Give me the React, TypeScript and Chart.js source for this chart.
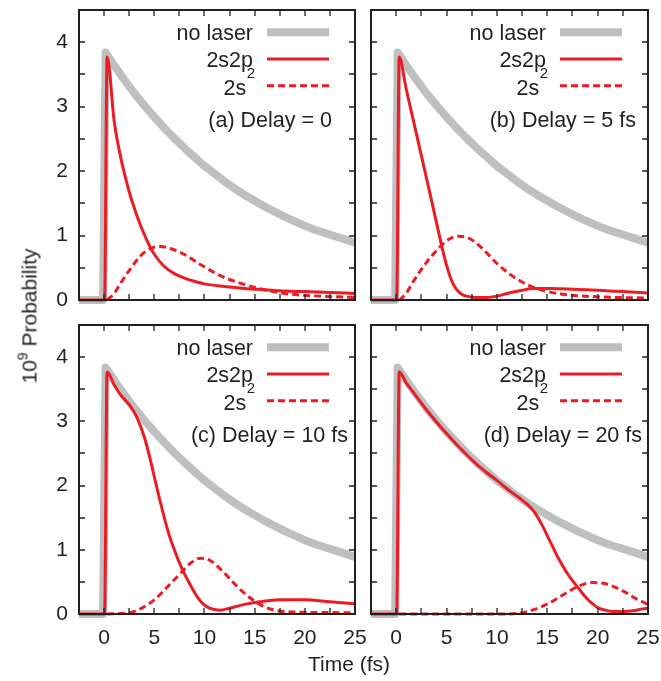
import React, { useEffect, useRef } from "react";
import { Chart, registerables } from "chart.js";

Chart.register(...registerables);

const FONT = '"Liberation Sans", Arial, Helvetica, sans-serif';
const INK = "#231f20";
const GRAY = "#bebfc1";
const RED = "#ec1c24";

// axes
const xMin = -2.5;
const xMax = 25;
const xStep = 2.5;
const yMin = 0;
const yMax = 4.5;
const yStep = 0.5;

// legend / titles
const legendNames = ["no laser", "2s2p", "2s"];
const panelTitles = ["(a) Delay = 0", "(b) Delay = 5 fs", "(c) Delay = 10 fs", "(d) Delay = 20 fs"];

// no laser (same in all panels)
const noLaserT = [-2.5, -0.1, 0.15, 1, 2, 3, 4, 5, 6, 7, 8, 9, 10, 11, 12, 13, 14, 15, 16, 17, 18, 19, 20, 21, 22, 23, 24, 25];
const noLaserP = [0, 0, 3.84, 3.64, 3.42, 3.21, 3.02, 2.84, 2.67, 2.51, 2.36, 2.22, 2.08, 1.96, 1.84, 1.73, 1.63, 1.54, 1.45, 1.37, 1.29, 1.22, 1.15, 1.09, 1.04, 0.99, 0.94, 0.89];

// (a) delay 0
const aSolidT = [-2.5, 0.05, 0.3, 1, 1.5, 2, 2.5, 3, 3.5, 4, 4.5, 5, 6, 7, 8, 9, 10, 12, 14, 16, 18, 20, 22, 25];
const aSolidP = [0, 0, 3.77, 2.78, 2.33, 1.98, 1.68, 1.43, 1.21, 1.02, 0.85, 0.71, 0.52, 0.41, 0.34, 0.29, 0.25, 0.21, 0.18, 0.16, 0.14, 0.13, 0.12, 0.1];
const aDashT = [0.3, 1, 1.6, 2.6, 3.6, 4.6, 5.6, 6.6, 7.6, 8.6, 9.6, 11.3, 12.3, 14.9, 17.6, 20.3, 25];
const aDashP = [0, 0.1, 0.25, 0.48, 0.68, 0.8, 0.83, 0.8, 0.74, 0.65, 0.55, 0.4, 0.33, 0.2, 0.11, 0.07, 0.04];

// (b) delay 5 fs
const bSolidT = [-2.5, 0.05, 0.3, 1, 1.7, 2.5, 3.2, 4, 4.55, 5, 5.5, 6, 6.5, 7, 8, 9, 10, 11, 12.5, 13.5, 15.2, 17, 20, 22.5, 25];
const bSolidP = [0, 0, 3.77, 3.27, 2.79, 2.24, 1.76, 1.2, 0.82, 0.54, 0.3, 0.16, 0.09, 0.06, 0.04, 0.04, 0.06, 0.1, 0.15, 0.18, 0.18, 0.17, 0.15, 0.13, 0.11];
const bDashT = [0.3, 1, 1.55, 2.9, 4.2, 5.2, 6.2, 7.2, 8.5, 9.85, 11.2, 12.5, 13.9, 16.5, 19.9, 25];
const bDashP = [0, 0.1, 0.25, 0.56, 0.8, 0.94, 0.99, 0.96, 0.81, 0.59, 0.41, 0.28, 0.18, 0.09, 0.05, 0.03];

// (c) delay 10 fs
const cSolidT = [-2.5, 0.05, 0.3, 1, 1.6, 2.6, 3.3, 4, 4.5, 5, 5.5, 6, 6.5, 7, 7.5, 8, 8.5, 9, 9.5, 10, 10.5, 11.5, 12.5, 14, 15.5, 17.5, 20, 22.5, 25];
const cSolidP = [0, 0, 3.77, 3.57, 3.42, 3.24, 3.05, 2.76, 2.47, 2.14, 1.81, 1.5, 1.22, 1.0, 0.8, 0.63, 0.48, 0.34, 0.22, 0.14, 0.09, 0.06, 0.09, 0.15, 0.19, 0.22, 0.22, 0.19, 0.16];
const cDashT = [0.3, 2.6, 3.6, 5, 6.3, 7.6, 8.6, 9.6, 10.6, 11.6, 13, 14, 15, 16, 17, 19, 25];
const cDashP = [0, 0.02, 0.08, 0.22, 0.42, 0.63, 0.79, 0.87, 0.83, 0.7, 0.47, 0.32, 0.2, 0.11, 0.06, 0.03, 0.02];

// (d) delay 20 fs
const dSolidT = [-2.5, 0.05, 0.3, 1, 2, 3, 4, 5, 6, 7, 8, 9, 10, 11, 12.2, 13, 13.5, 14, 14.5, 15, 15.5, 16, 16.5, 17, 17.5, 18, 18.5, 19, 19.5, 20, 20.5, 21.5, 22.5, 23.5, 24.5, 25];
const dSolidP = [0, 0, 3.77, 3.6, 3.39, 3.18, 2.99, 2.81, 2.64, 2.48, 2.33, 2.2, 2.08, 1.95, 1.81, 1.71, 1.63, 1.52, 1.38, 1.22, 1.06, 0.9, 0.76, 0.63, 0.52, 0.42, 0.32, 0.23, 0.16, 0.1, 0.07, 0.04, 0.04, 0.05, 0.08, 0.09];
const dDashT = [0.3, 10, 12.2, 13.5, 15.2, 16.8, 18.2, 19.5, 20.8, 22.5, 23.8, 25];
const dDashP = [0, 0, 0.01, 0.06, 0.17, 0.32, 0.44, 0.49, 0.47, 0.36, 0.24, 0.15];

const toXY = (t: number[], v: number[]) => t.map((x, i) => ({ x, y: v[i] }));

const LW = 3;
const DASH = [7, 4];

const decorPlugin = {
  id: "decor",
  afterDatasetsDraw(chart: any) {
    const opts = chart.options.plugins.decor;
    const { ctx, chartArea: a } = chart;
    const xs = chart.scales.x;
    const ys = chart.scales.y;
    ctx.save();
    // inward ticks on all four sides
    ctx.strokeStyle = INK;
    ctx.lineWidth = 1.3;
    ctx.beginPath();
    const TL = 6;
    xs.ticks.forEach((t: any) => {
      if (t.value <= xs.min || t.value >= xs.max) return;
      const p = Math.round(xs.getPixelForValue(t.value));
      ctx.moveTo(p, a.bottom);
      ctx.lineTo(p, a.bottom - TL);
      ctx.moveTo(p, a.top);
      ctx.lineTo(p, a.top + TL);
    });
    ys.ticks.forEach((t: any) => {
      if (t.value <= ys.min || t.value >= ys.max) return;
      const p = Math.round(ys.getPixelForValue(t.value));
      ctx.moveTo(a.left, p);
      ctx.lineTo(a.left + TL, p);
      ctx.moveTo(a.right, p);
      ctx.lineTo(a.right - TL, p);
    });
    ctx.stroke();
    // frame
    ctx.lineWidth = 2;
    ctx.strokeRect(a.left, a.top, a.right - a.left, a.bottom - a.top);

    // legend
    const tr = a.right - 102;
    ctx.fillStyle = INK;
    ctx.textAlign = "right";
    ctx.textBaseline = "alphabetic";
    ctx.font = `21.5px ${FONT}`;
    ctx.fillText(legendNames[0], tr, a.top + 29.5);
    ctx.fillText(legendNames[1], tr, a.top + 56.7);
    ctx.font = `15px ${FONT}`;
    const supW = ctx.measureText("2").width;
    ctx.fillText("2", tr + 2, a.top + 68);
    ctx.font = `21.5px ${FONT}`;
    ctx.fillText(legendNames[2], tr + 1.5 - supW, a.top + 85);

    const lx0 = a.right - 88;
    const lx1 = a.right - 26;
    ctx.lineCap = "butt";
    ctx.strokeStyle = GRAY;
    ctx.lineWidth = 8;
    ctx.beginPath();
    ctx.moveTo(lx0, a.top + 22.3);
    ctx.lineTo(lx1, a.top + 22.3);
    ctx.stroke();
    ctx.strokeStyle = RED;
    ctx.lineWidth = LW;
    ctx.beginPath();
    ctx.moveTo(lx0, a.top + 49);
    ctx.lineTo(lx1, a.top + 49);
    ctx.stroke();
    ctx.setLineDash(DASH);
    ctx.beginPath();
    ctx.moveTo(lx0, a.top + 75.7);
    ctx.lineTo(lx1, a.top + 75.7);
    ctx.stroke();
    ctx.setLineDash([]);

    // panel title
    ctx.font = `21.5px ${FONT}`;
    ctx.fillText(opts.title, a.right - opts.titleRight, a.top + 117);
    ctx.restore();
  },
};

type PanelProps = {
  left: number;
  top: number;
  width: number;
  height: number;
  padTop: number;
  padRight: number;
  yWidth: number;
  xHeight: number;
  showX: boolean;
  showY: boolean;
  title: string;
  titleRight: number;
  solidT: number[];
  solidP: number[];
  dashT: number[];
  dashP: number[];
};

function Panel(p: PanelProps) {
  const ref = useRef<HTMLCanvasElement>(null);
  useEffect(() => {
    const zeroPad = (s: any) => {
      s.paddingLeft = 0;
      s.paddingRight = 0;
      s.paddingTop = 0;
      s.paddingBottom = 0;
    };
    const chart = new Chart(ref.current as HTMLCanvasElement, {
      type: "line",
      data: {
        datasets: [
          {
            label: "2s2p",
            data: toXY(p.solidT, p.solidP),
            borderColor: RED,
            borderWidth: LW,
            pointRadius: 0,
            cubicInterpolationMode: "monotone",
            clip: { left: 0, top: 0, right: 0, bottom: 3 },
            order: 1,
          },
          {
            label: "2s^2",
            data: toXY(p.dashT, p.dashP),
            borderColor: RED,
            borderWidth: LW,
            borderDash: DASH,
            pointRadius: 0,
            cubicInterpolationMode: "monotone",
            clip: { left: 0, top: 0, right: 0, bottom: 3 },
            order: 2,
          },
          {
            label: "no laser",
            data: toXY(noLaserT, noLaserP),
            borderColor: GRAY,
            borderWidth: 8,
            borderJoinStyle: "round",
            pointRadius: 0,
            tension: 0,
            clip: { left: 0, top: 0, right: 0, bottom: 8 },
            order: 3,
          },
        ],
      } as any,
      options: {
        animation: false,
        responsive: false,
        devicePixelRatio: 1,
        events: [],
        layout: { padding: { top: p.padTop, right: p.padRight, left: 0, bottom: 0 } },
        plugins: {
          legend: { display: false },
          tooltip: { enabled: false },
          decor: { title: p.title, titleRight: p.titleRight },
        } as any,
        scales: {
          x: {
            type: "linear",
            min: xMin,
            max: xMax,
            grid: { display: false, drawTicks: false },
            border: { display: false },
            ticks: {
              stepSize: xStep,
              autoSkip: false,
              maxRotation: 0,
              padding: 12,
              color: INK,
              font: { family: FONT, size: 21 },
              callback: (v: any) => (p.showX && Number(v) % 5 === 0 ? String(v) : ""),
            },
            afterFit: (s: any) => {
              s.height = p.xHeight;
              zeroPad(s);
            },
          },
          y: {
            type: "linear",
            min: yMin,
            max: yMax,
            grid: { display: false, drawTicks: false },
            border: { display: false },
            ticks: {
              stepSize: yStep,
              autoSkip: false,
              padding: 11,
              color: INK,
              font: { family: FONT, size: 21 },
              callback: (v: any) => (p.showY && Number(v) % 1 === 0 ? String(v) : ""),
            },
            afterFit: (s: any) => {
              s.width = p.yWidth;
              zeroPad(s);
            },
          },
        },
      } as any,
      plugins: [decorPlugin],
    });
    return () => chart.destroy();
  }, []);
  return (
    <canvas
      ref={ref}
      width={p.width}
      height={p.height}
      style={{ position: "absolute", left: p.left, top: p.top, width: p.width, height: p.height }}
    />
  );
}

export default function App() {
  return (
    <div style={{ position: "absolute", left: 0, top: 0, width: 661, height: 681, background: "#fff", overflow: "hidden" }}>
      <Panel left={0} top={0} width={375} height={310} padTop={10} padRight={20} yWidth={79} xHeight={10}
        showX={false} showY={true} title={panelTitles[0]} titleRight={23}
        solidT={aSolidT} solidP={aSolidP} dashT={aDashT} dashP={aDashP} />
      <Panel left={360} top={0} width={301} height={310} padTop={10} padRight={13} yWidth={11} xHeight={10}
        showX={false} showY={false} title={panelTitles[1]} titleRight={12}
        solidT={bSolidT} solidP={bSolidP} dashT={bDashT} dashP={bDashP} />
      <Panel left={0} top={310} width={375} height={371} padTop={15} padRight={20} yWidth={79} xHeight={67}
        showX={true} showY={true} title={panelTitles[2]} titleRight={7}
        solidT={cSolidT} solidP={cSolidP} dashT={cDashT} dashP={cDashP} />
      <Panel left={360} top={310} width={301} height={371} padTop={15} padRight={13} yWidth={11} xHeight={67}
        showX={true} showY={false} title={panelTitles[3]} titleRight={6}
        solidT={dSolidT} solidP={dSolidP} dashT={dDashT} dashP={dDashP} />
      <div
        style={{
          position: "absolute",
          left: 29,
          top: 316,
          transform: "translate(-50%, -50%) rotate(-90deg)",
          whiteSpace: "nowrap",
          fontFamily: FONT,
          fontSize: 21,
          color: INK,
          lineHeight: 1,
        }}
      >
        10<span style={{ fontSize: 14, position: "relative", top: -9 }}>9</span> Probability
      </div>
      <div
        style={{
          position: "absolute",
          left: 349,
          top: 663,
          transform: "translate(-50%, -50%)",
          whiteSpace: "nowrap",
          fontFamily: FONT,
          fontSize: 21,
          color: INK,
          lineHeight: 1,
        }}
      >
        Time (fs)
      </div>
    </div>
  );
}
